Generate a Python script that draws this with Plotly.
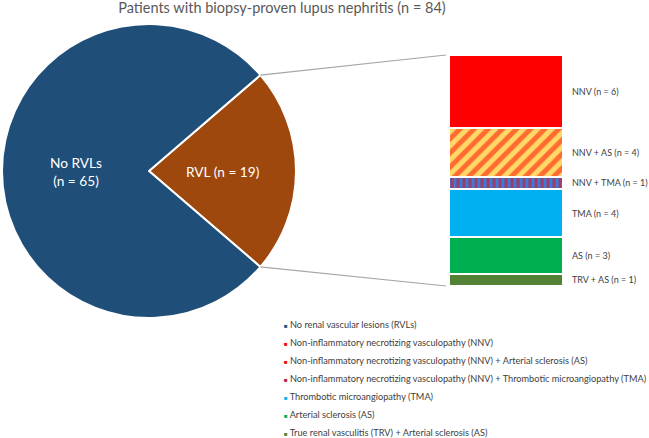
import math

import plotly.graph_objects as go

# ---- data ----
pie_labels = ["RVL", "No RVLs"]
pie_values = [19, 65]
pie_text = ["RVL (n = 19)", "No RVLs<br>(n = 65)"]
pie_colors = ["#9E480E", "#1F4E79"]

# RVL breakdown, top to bottom
rvl_short = ["NNV", "NNV + AS", "NNV + TMA", "TMA", "AS", "TRV + AS"]
rvl_counts = [6, 4, 1, 4, 3, 1]
rvl_colors = ["#FF0000", "#FFD966", "#3A7BD5", "#00B0F0", "#00B050", "#548235"]
rvl_patterns = ["", "/", "|", "", "", ""]
rvl_pattern_fg = [None, "#FF0000", "#FF0000", None, None, None]

legend_labels = [
    "No renal vascular lesions (RVLs)",
    "Non-inflammatory necrotizing vasculopathy (NNV)",
    "Non-inflammatory necrotizing vasculopathy (NNV) + Arterial sclerosis (AS)",
    "Non-inflammatory necrotizing vasculopathy (NNV) + Thrombotic microangiopathy (TMA)",
    "Thrombotic microangiopathy (TMA)",
    "Arterial sclerosis (AS)",
    "True renal vasculitis (TRV) + Arterial sclerosis (AS)",
]
legend_colors = ["#1F4E79", "#FF0000", "#FF0000", "#C0143C", "#00B0F0", "#00B050", "#548235"]

title = "Patients with biopsy-proven lupus nephritis (n = 84)"

# ---- layout helpers ----
W, H = 649, 438
FONT = "Lato, 'Open Sans', sans-serif"


def px(x):
    return x / W


def py(y):
    return 1 - y / H


pie_x = [px(2), px(296)]
pie_y = [py(318), py(24)]
bar_x = [px(449), px(563)]
bar_y = [py(286), py(55)]

fig = go.Figure()

share = pie_values[0] / sum(pie_values)
fig.add_trace(
    go.Pie(
        labels=pie_labels,
        values=pie_values,
        textinfo="none",
        marker=dict(colors=pie_colors, line=dict(color="white", width=2)),
        sort=False,
        direction="clockwise",
        rotation=90 - 180 * share,
        domain=dict(x=pie_x, y=pie_y),
        showlegend=False,
        hoverinfo="label+value",
    )
)

# stacked bar: first trace at bottom
total = sum(rvl_counts)
for name, n, col, pat, fg in reversed(list(zip(rvl_short, rvl_counts, rvl_colors, rvl_patterns, rvl_pattern_fg))):
    pattern = dict(shape=pat, fgcolor=fg, bgcolor=col, size=10 if pat == "/" else 6, solidity=0.5) if pat else None
    fig.add_trace(
        go.Bar(
            x=["RVL"],
            y=[n],
            name=name,
            marker=dict(color=col, line=dict(color="white", width=2), pattern=pattern),
            showlegend=False,
        )
    )

# pie geometry (pixels)
cx = (pie_x[0] + pie_x[1]) / 2 * W
cy = (1 - (pie_y[0] + pie_y[1]) / 2) * H
r = (pie_x[1] - pie_x[0]) * W / 2

ann = []
# slice labels at half radius along each slice's mid-angle (math angles, ccw from +x)
start = 180 * share
acc = 0
for txt, v in zip(pie_text, pie_values):
    mid_deg = start - 360 * (acc + v / 2) / sum(pie_values)
    acc += v
    a = math.radians(mid_deg)
    ann.append(
        dict(
            x=px(cx + 0.5 * r * math.cos(a)), y=py(cy - 0.5 * r * math.sin(a)),
            xref="paper", yref="paper", xanchor="center", yanchor="middle",
            text=txt, showarrow=False,
            font=dict(size=13.7, color="white", family=FONT),
        )
    )

# bar labels
cum = total
for name, n in zip(rvl_short, rvl_counts):
    mid = cum - n / 2
    cum -= n
    ann.append(
        dict(
            x=px(570), xref="paper", xanchor="left",
            y=mid, yref="y", yanchor="middle",
            text=f"{name} (n = {n})", showarrow=False,
            font=dict(size=9, color="#404040", family=FONT),
        )
    )

# legend (manual, tight spacing)
for i, (lab, col) in enumerate(zip(legend_labels, legend_colors)):
    ann.append(
        dict(
            x=px(282), xref="paper", xanchor="left",
            y=py(324 + 18 * i), yref="paper", yanchor="middle",
            text=f'<span style="color:{col};font-size:6px">■</span> {lab}',
            showarrow=False,
            font=dict(size=9.2, color="#404040", family=FONT),
        )
    )

# connector lines from the RVL slice edge to the bar
half = math.pi * share
ex = cx + r * math.cos(half)
ey_top = cy - r * math.sin(half)
ey_bot = cy + r * math.sin(half)
shapes = [
    dict(type="line", xref="paper", yref="paper",
         x0=px(ex), y0=py(ey_top), x1=bar_x[0] - px(3), y1=bar_y[1],
         line=dict(color="#A6A6A6", width=1.2)),
    dict(type="line", xref="paper", yref="paper",
         x0=px(ex), y0=py(ey_bot), x1=bar_x[0] - px(3), y1=bar_y[0],
         line=dict(color="#A6A6A6", width=1.2)),
]

fig.update_layout(
    width=W,
    height=H,
    margin=dict(l=0, r=0, t=0, b=0),
    paper_bgcolor="white",
    plot_bgcolor="white",
    barmode="stack",
    bargap=0,
    title=dict(
        text=title, x=px(282), y=py(8), xanchor="center", yanchor="middle",
        font=dict(size=14.5, color="#595959", family=FONT),
    ),
    xaxis=dict(domain=bar_x, visible=False, type="category"),
    yaxis=dict(domain=bar_y, visible=False, range=[0, total]),
    annotations=ann,
    shapes=shapes,
    font=dict(family=FONT),
)

fig.write_html(
    "out.html",
    config={"displayModeBar": False},
    post_script="document.body.style.margin='0px';",
)
